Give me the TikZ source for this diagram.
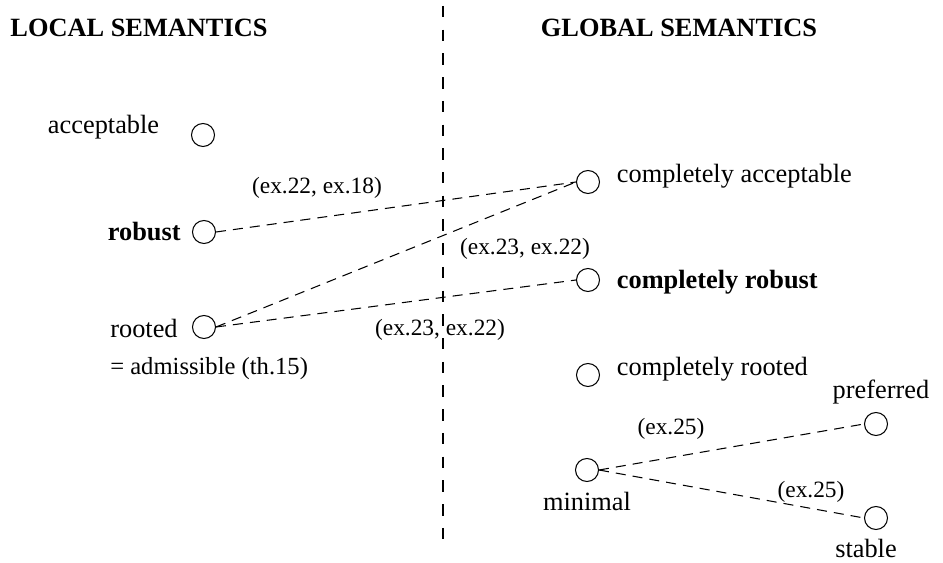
\documentclass[tikz,border=0pt]{standalone}
\usepackage{fontspec}
\setmainfont{Liberation Serif}
\usetikzlibrary{positioning}

\begin{document}
\begin{tikzpicture}[
  x=0.02cm, y=-0.02cm,
  every node/.style={font=\fontsize{15}{18}\selectfont},
  sem/.style={draw, circle, minimum size=0.46cm, inner sep=0pt, line width=0.6pt},
  semname/.style={inner sep=0pt},
  exlbl/.style={font=\fontsize{13.3}{16}\selectfont, inner sep=0pt},
  head/.style={font=\bfseries\fontsize{15}{18}\selectfont, inner sep=0pt},
  link/.style={line width=0.6pt, dash pattern=on 5.7pt off 4pt}
]
\useasboundingbox (0,0) rectangle (943,563);

% Headings and separator
\node[head] (local) at (139,28) {LOCAL SEMANTICS};
\node[head] (global) at (679,28) {GLOBAL SEMANTICS};
\coordinate (septop) at (443,6);
\coordinate (sepbot) at (443,548);
\draw[line width=0.6pt, dash pattern=on 6.5pt off 7pt] (septop) -- (sepbot);

% Local semantics
\node[sem] (acc) at (203,135) {};
\node[sem] (rob) at (204,232) {};
\node[sem] (roo) at (204,327) {};
\node[semname, left=0.63cm of acc, yshift=0.16cm] (acclbl) {acceptable};
\node[semname, left=0.22cm of rob] (roblbl) {\textbf{robust}};
\node[semname, left=0.28cm of roo, yshift=-0.03cm] (roolbl) {rooted};
\node[semname, font=\fontsize{14}{17}\selectfont, below=0.38cm of roolbl.south west, anchor=north west] (admlbl) {= admissible (th.15)};

% Global semantics
\node[sem] (cacc) at (588,182) {};
\node[sem] (crob) at (588,280) {};
\node[sem] (croo) at (588,375) {};
\node[sem] (mini) at (587,470) {};
\node[sem] (pref) at (876,424) {};
\node[sem] (stab) at (876,518) {};
\node[semname, right=0.33cm of cacc, yshift=0.12cm] (cacclbl) {completely acceptable};
\node[semname, right=0.33cm of crob, yshift=-0.04cm] (croblbl) {\textbf{completely robust}};
\node[semname, right=0.33cm of croo, yshift=0.12cm] (croolbl) {completely rooted};
\node[semname, below=0.2cm of mini] (minilbl) {minimal};
\node[semname, above=0.16cm of pref, xshift=0.1cm] (preflbl) {preferred};
\node[semname, below=0.18cm of stab, xshift=-0.2cm] (stablbl) {stable};

% Counterexample links
\draw[link] (rob.east) -- (cacc.west);
\draw[link] (roo.east) -- (cacc.west);
\draw[link] (roo.east) -- (crob.west);
\draw[link] (mini.east) -- (pref.west);
\draw[link] (mini.east) -- (stab.west);

% Link labels
\node[exlbl] (ex1) at (317,188) {(ex.22, ex.18)};
\node[exlbl] (ex2) at (525,249) {(ex.23, ex.22)};
\node[exlbl] (ex3) at (440,330) {(ex.23, ex.22)};
\node[exlbl] (ex4) at (671,429) {(ex.25)};
\node[exlbl] (ex5) at (811,492) {(ex.25)};
\end{tikzpicture}
\end{document}
